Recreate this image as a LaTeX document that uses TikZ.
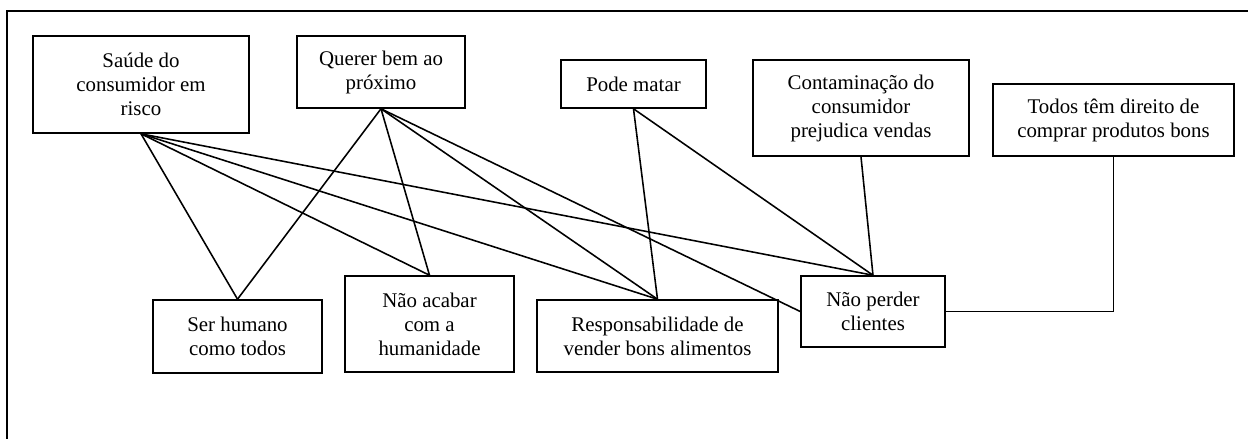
\documentclass[tikz,border=0pt]{standalone}
\usepackage{fontspec}
\setmainfont{Liberation Serif}
\begin{document}
\begin{tikzpicture}[x=0.575pt,y=-0.575pt,line width=0.9pt]
    \tikzstyle{concept}=[draw,rectangle,align=center,inner sep=2pt,font=\fontsize{12}{13.8}\selectfont]
    \tikzstyle{frame}=[line width=1pt]
    \useasboundingbox (0,0) rectangle (1248,439);

    % Outer frame (only top and left are drawn)
    \draw[frame] (1248,11) -| (7,439);

    % Draw the upper row
    \node[concept, minimum width=124.2pt, minimum height=55.8pt] (T-1) at (141,84.5) {Saúde do\\consumidor em\\risco};
    \node[concept, minimum width=96.6pt, minimum height=41.4pt] (T-2) at (381,72) {Querer bem ao\\próximo};
    \node[concept, minimum width=83.4pt, minimum height=27.6pt] (T-3) at (633.5,84) {Pode matar};
    \node[concept, minimum width=124.2pt, minimum height=55.2pt] (T-4) at (861,108) {Contaminação do\\consumidor\\prejudica vendas};
    \node[concept, minimum width=138.6pt, minimum height=41.4pt] (T-5) at (1113.5,120) {Todos têm direito de\\comprar produtos bons};

    % Draw the lower row
    \node[concept, minimum width=97.2pt, minimum height=42pt] (B-1) at (237.5,336.5) {Ser humano\\como todos};
    \node[concept, minimum width=97.2pt, minimum height=55.2pt] (B-2) at (429.5,324) {Não acabar\\com a\\humanidade};
    \node[concept, minimum width=138.6pt, minimum height=41.4pt] (B-3) at (657.5,336) {Responsabilidade de\\vender bons alimentos};
    \node[concept, minimum width=82.8pt, minimum height=40.8pt] (B-4) at (873,311.5) {Não perder\\clientes};

    \foreach \source in {1,2}
        \foreach \dest in {1,...,3}
            \path (T-\source.south) edge (B-\dest.north);

    \path (T-1.south) edge (B-4.north);
    \path (T-2.south) edge (B-4.west);

    \path (T-3.south) edge (B-3.north);
    \path (T-3.south) edge (B-4.north);
    \path (T-4.south) edge (B-4.north);

    \draw (T-5.south) |- (B-4.east);
\end{tikzpicture}
\end{document}
